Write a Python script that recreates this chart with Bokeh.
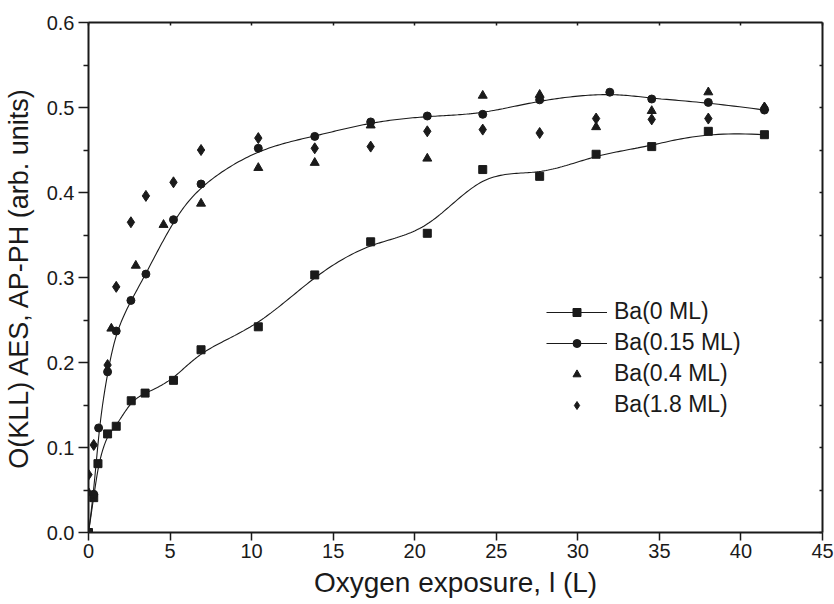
import numpy as np
from bokeh.plotting import figure
from bokeh.models import (Range1d, LinearAxis, Legend, LegendItem,
                          FixedTicker, NumeralTickFormatter)
from bokeh.embed import file_html
from bokeh.resources import INLINE

# ---- data ----
x_ba0 = [0, 0.32, 0.58, 1.17, 1.70, 2.62, 3.47, 5.21, 6.9, 10.41, 13.87, 17.3, 20.77, 24.17, 27.66, 31.12, 34.53, 38.0, 41.44]
y_ba0 = [0, 0.041, 0.081, 0.116, 0.125, 0.155, 0.164, 0.179, 0.215, 0.242, 0.303, 0.342, 0.352, 0.427, 0.419, 0.445, 0.454, 0.472, 0.468]

x_ba015 = [0, 0.32, 0.62, 1.17, 1.70, 2.6, 3.52, 5.21, 6.9, 10.41, 13.87, 17.3, 20.77, 24.17, 27.66, 31.96, 34.53, 38.0, 41.44]
y_ba015 = [0, 0.045, 0.123, 0.189, 0.237, 0.273, 0.304, 0.368, 0.410, 0.452, 0.466, 0.483, 0.490, 0.492, 0.509, 0.518, 0.510, 0.506, 0.497]

x_ba04 = [0, 1.40, 2.9, 4.6, 6.9, 10.41, 13.87, 17.3, 20.77, 24.17, 27.66, 31.12, 34.53, 38.0, 41.44]
y_ba04 = [0.047, 0.240, 0.314, 0.362, 0.387, 0.429, 0.435, 0.479, 0.440, 0.514, 0.515, 0.477, 0.496, 0.518, 0.500]

x_ba18 = [0, 0.32, 1.17, 1.70, 2.6, 3.52, 5.21, 6.9, 10.41, 13.87, 17.3, 20.77, 24.17, 27.66, 31.12, 34.53, 38.0, 41.44]
y_ba18 = [0.068, 0.103, 0.197, 0.289, 0.365, 0.396, 0.412, 0.450, 0.464, 0.452, 0.454, 0.472, 0.474, 0.470, 0.487, 0.486, 0.487, 0.500]

labels = ["Ba(0 ML)", "Ba(0.15 ML)", "Ba(0.4 ML)", "Ba(1.8 ML)"]
x_ticks = [0, 5, 10, 15, 20, 25, 30, 35, 40, 45]
y_ticks = [0.0, 0.1, 0.2, 0.3, 0.4, 0.5, 0.6]
x_title = "Oxygen exposure, l (L)"
y_title = "O(KLL) AES, AP-PH (arb. units)"


def bspline(px, py, n=400, k=3):
    """Clamped cubic B-spline with the data points as control points."""
    P = np.column_stack([px, py]).astype(float)
    m = len(P)
    knots = np.concatenate([np.zeros(k + 1), np.arange(1, m - k), np.full(k + 1, m - k)]).astype(float)
    t = np.linspace(0, m - k, n)
    t[-1] -= 1e-9
    N = np.zeros((n, len(knots) - 1))
    for i in range(len(knots) - 1):
        N[:, i] = (t >= knots[i]) & (t < knots[i + 1])
    for d in range(1, k + 1):
        Nn = np.zeros((n, len(knots) - 1 - d))
        for i in range(len(knots) - 1 - d):
            a = knots[i + d] - knots[i]
            b = knots[i + d + 1] - knots[i + 1]
            term = np.zeros(n)
            if a > 0:
                term += (t - knots[i]) / a * N[:, i]
            if b > 0:
                term += (knots[i + d + 1] - t) / b * N[:, i + 1]
            Nn[:, i] = term
        N = Nn
    C = N @ P
    return C[:, 0], C[:, 1]


FONT = "Liberation Sans"
INK = "#1a1a1a"

p = figure(width=834, height=604, x_range=Range1d(0, 45), y_range=Range1d(0, 0.6),
           output_backend="svg", toolbar_location=None,
           min_border_left=87, min_border_right=12, min_border_top=22, min_border_bottom=72)
p.outline_line_color = None
p.grid.visible = False
p.background_fill_color = "white"
p.border_fill_color = "white"

# curves
cx, cy = bspline(x_ba0, y_ba0)
p.line(cx, cy, line_color=INK, line_width=1.1)
cx, cy = bspline(x_ba015, y_ba015)
p.line(cx, cy, line_color=INK, line_width=1.1)

# markers
p.scatter(x_ba0, y_ba0, marker="square", size=8, fill_color=INK, line_color=INK)
p.scatter(x_ba015, y_ba015, marker="circle", size=8, fill_color=INK, line_color=INK)
p.scatter(x_ba04, y_ba04, marker="triangle", size=9, fill_color=INK, line_color=INK)
p.scatter(x_ba18, y_ba18, marker="diamond", size=11, fill_color=INK, line_color=INK)

# legend proxies (smaller markers as in the reference), never visible in the plot area
nan = [np.nan]
l0 = p.line(nan, nan, line_color=INK, line_width=1.1)
m0 = p.scatter(nan, nan, marker="square", size=6, fill_color=INK, line_color=INK)
l1 = p.line(nan, nan, line_color=INK, line_width=1.1)
m1 = p.scatter(nan, nan, marker="circle", size=6, fill_color=INK, line_color=INK)
m2 = p.scatter(nan, nan, marker="triangle", size=7, fill_color=INK, line_color=INK)
m3 = p.scatter(nan, nan, marker="diamond", size=8, fill_color=INK, line_color=INK)

legend = Legend(items=[LegendItem(label=labels[0], renderers=[l0, m0]),
                       LegendItem(label=labels[1], renderers=[l1, m1]),
                       LegendItem(label=labels[2], renderers=[m2]),
                       LegendItem(label=labels[3], renderers=[m3])],
                location=(458, 114), border_line_color=None, background_fill_alpha=0,
                padding=0, margin=0, spacing=4, glyph_width=61, glyph_height=20,
                label_height=20, label_standoff=7, label_text_font=FONT,
                label_text_font_size="23px", label_text_color=INK)
p.add_layout(legend)

# axes
for ax in (p.xaxis[0], p.yaxis[0]):
    ax.axis_line_width = 2
    ax.axis_line_color = INK
    ax.major_tick_line_color = INK
    ax.minor_tick_line_color = INK
    ax.major_tick_line_width = 1.5
    ax.minor_tick_line_width = 1.5
    ax.major_label_text_font = FONT
    ax.major_label_text_font_size = "20px"
    ax.major_label_text_color = INK
    ax.axis_label_text_font = FONT
    ax.axis_label_text_font_style = "normal"
    ax.axis_label_text_color = INK

p.xaxis.ticker = FixedTicker(ticks=x_ticks)
p.xaxis.major_tick_in = 0
p.xaxis.major_tick_out = 8
p.xaxis.major_label_standoff = 3
p.xaxis.axis_label = x_title
p.xaxis.axis_label_text_font_size = "28px"
p.xaxis.axis_label_standoff = 6

p.yaxis.ticker = FixedTicker(ticks=y_ticks, minor_ticks=[0.05, 0.15, 0.25, 0.35, 0.45, 0.55])
p.yaxis.formatter = NumeralTickFormatter(format="0.0")
p.yaxis.major_tick_in = 0
p.yaxis.major_tick_out = 10
p.yaxis.minor_tick_in = 0
p.yaxis.minor_tick_out = 5
p.yaxis.major_label_standoff = 4
p.yaxis.axis_label = y_title
p.yaxis.axis_label_text_font_size = "27px"
p.yaxis.axis_label_standoff = 10

top = LinearAxis(ticker=FixedTicker(ticks=x_ticks), major_label_text_color=None,
                 axis_line_width=2, axis_line_color=INK, major_tick_line_color=INK,
                 major_tick_in=3, major_tick_out=0, major_tick_line_width=1.5)
right = LinearAxis(ticker=FixedTicker(ticks=[0.05 * i for i in range(13)]),
                   major_label_text_color=None,
                   axis_line_width=2, axis_line_color=INK, major_tick_line_color=INK,
                   major_tick_in=3, major_tick_out=0, major_tick_line_width=1.5)
top.minor_tick_line_color = None
right.minor_tick_line_color = None
p.add_layout(top, "above")
p.add_layout(right, "right")

open("out.html", "w").write(file_html(p, INLINE))
